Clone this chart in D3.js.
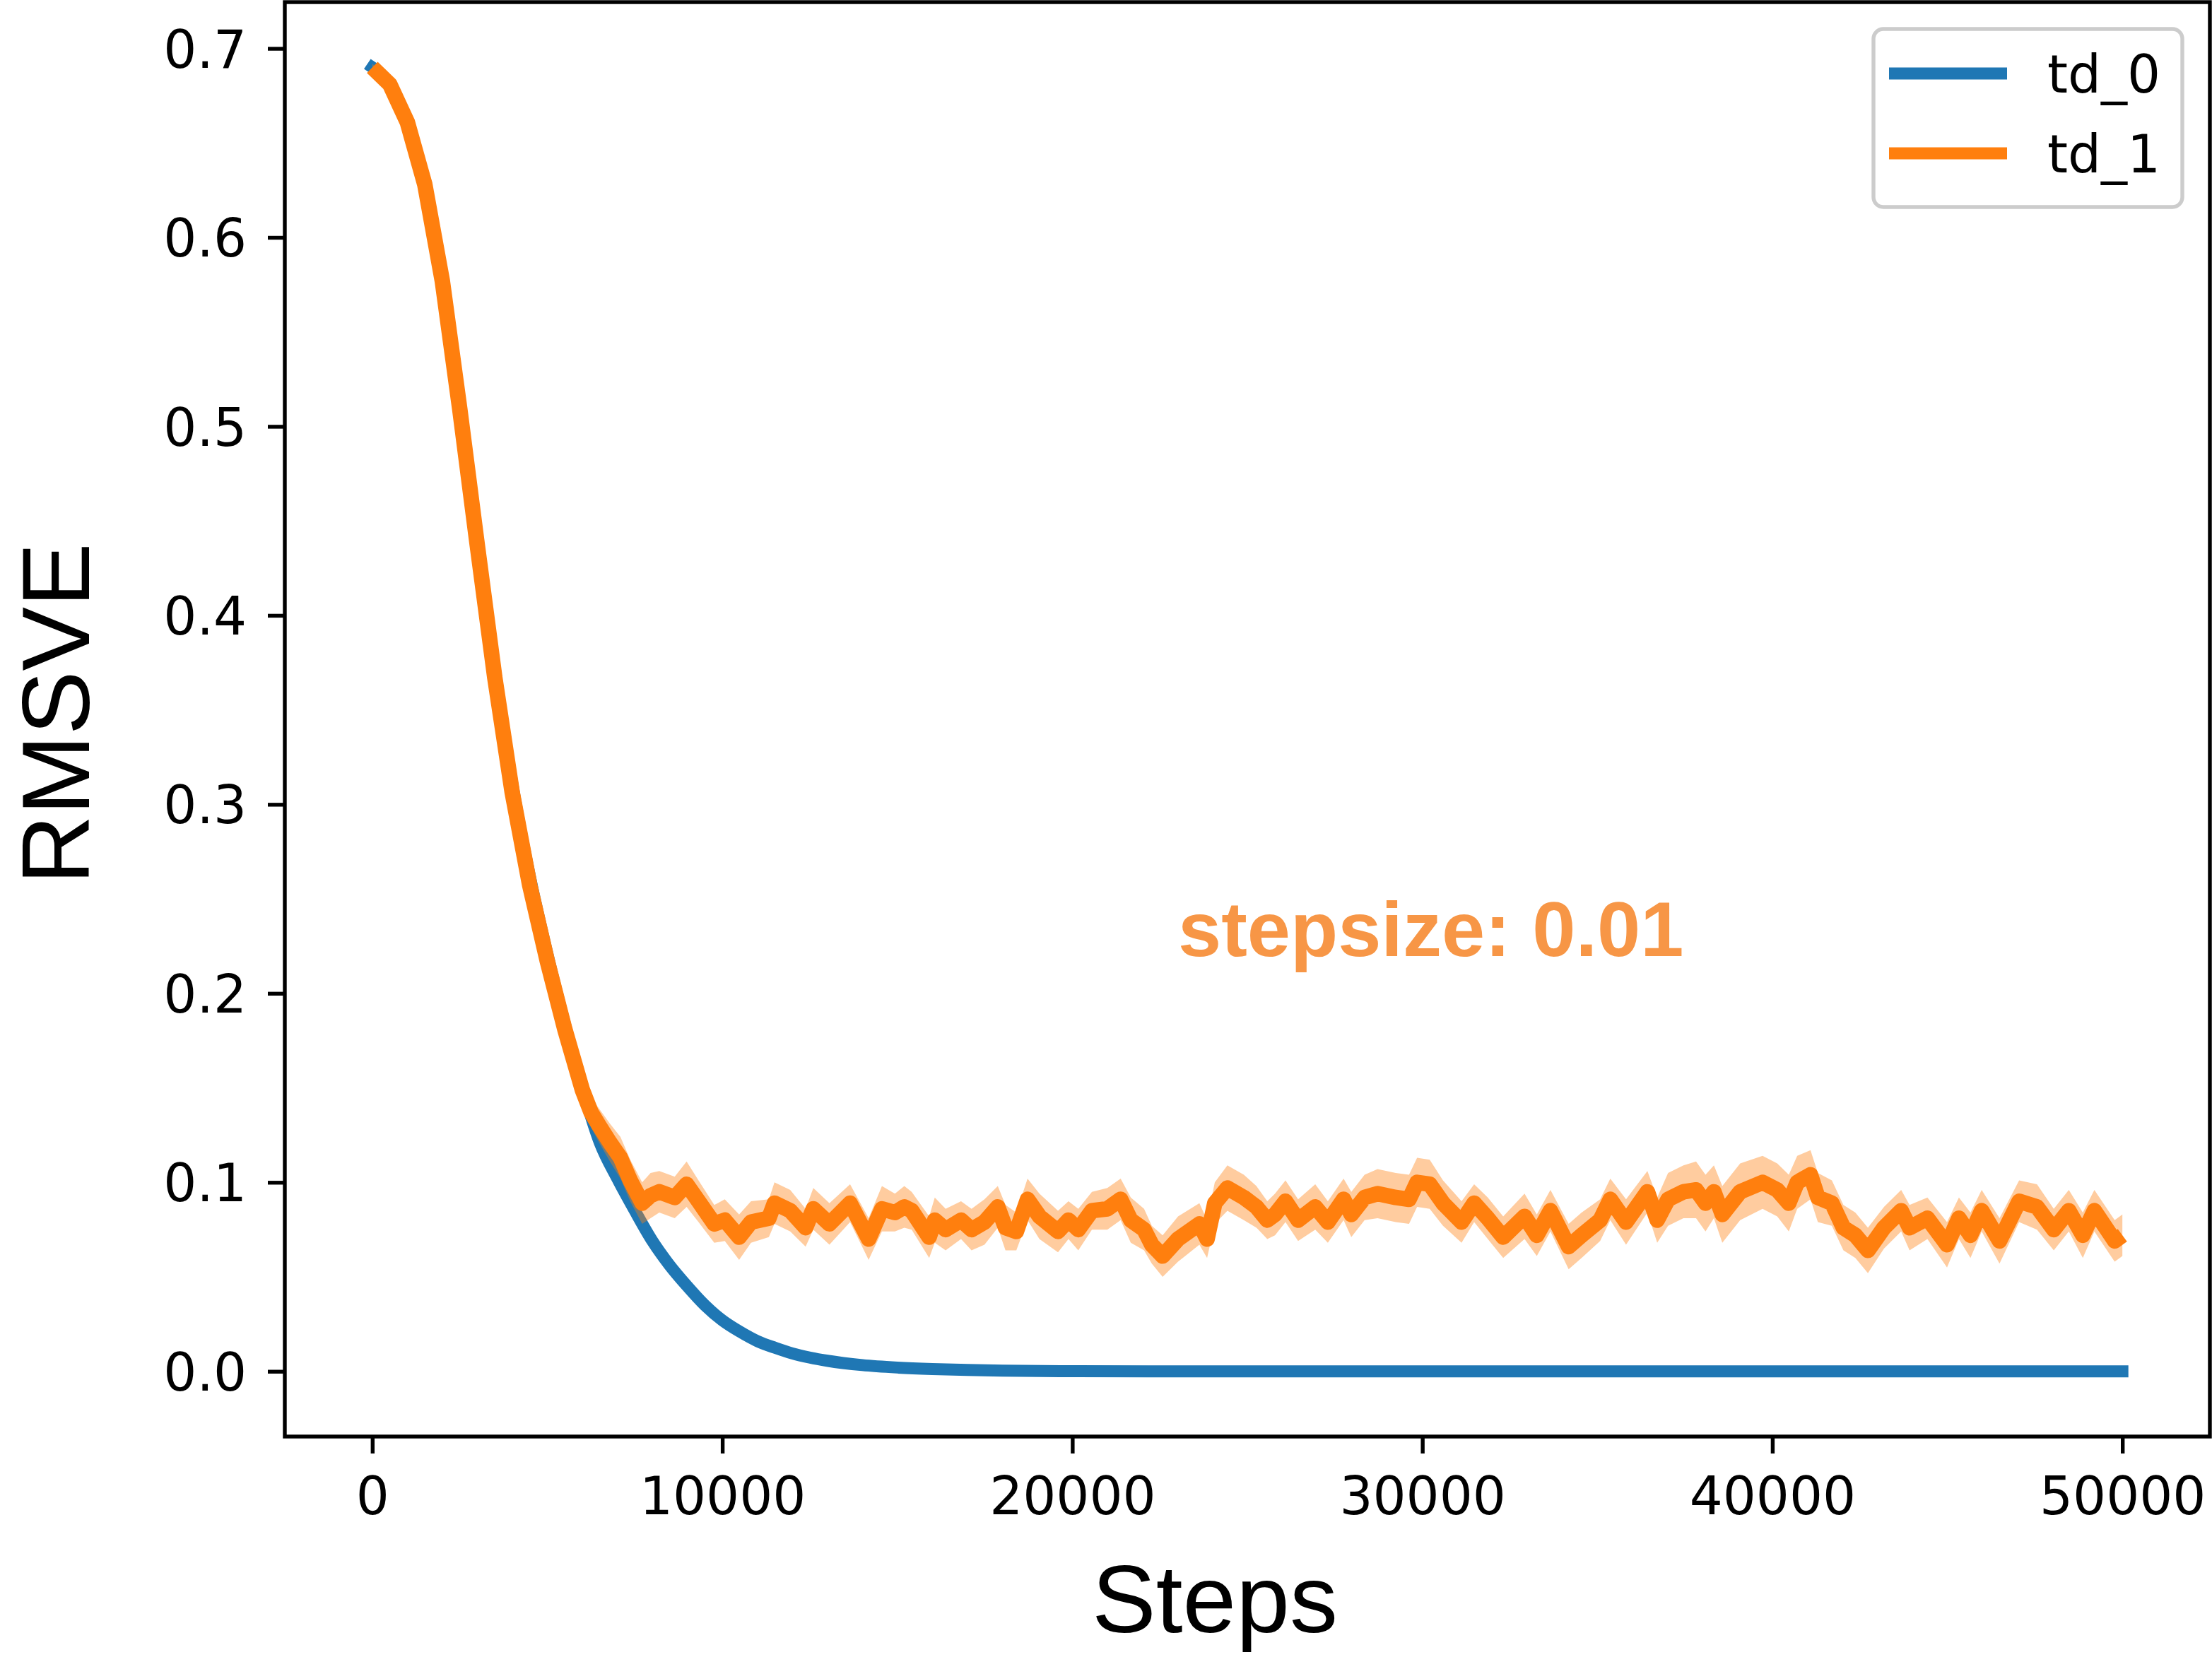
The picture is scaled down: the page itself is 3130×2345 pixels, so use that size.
<!DOCTYPE html>
<html>
<head>
<meta charset="utf-8">
<script src="https://cdn.jsdelivr.net/npm/d3@7"></script>
<style>
  html, body { margin: 0; padding: 0; background: #fff; }
  svg { display: block; }
</style>
</head>
<body>
<script>
// ---------------- data ----------------
const xTicks = [0, 10000, 20000, 30000, 40000, 50000];
const yTicks = [0.0, 0.1, 0.2, 0.3, 0.4, 0.5, 0.6, 0.7];
const seriesNames = ["td_0", "td_1"];

const td0Steps = [0,500,1000,1500,2000,2500,3000,3500,4000,4500,5000,5500,6000,6500,7000,7500,8000,8500,9000,9500,10000,10500,11000,11500,12000,12500,13000,14000,15000,16000,17000,18000,20000,25000,30000,35000,40000,45000,50000];
const td0Values = [0.690,0.681,0.661,0.628,0.579,0.512,0.440,0.372,0.311,0.262,0.221,0.184,0.150,0.121,0.102,0.085,0.069,0.056,0.045,0.035,0.027,0.021,0.016,0.0125,0.0095,0.0073,0.0056,0.0033,0.002,0.0012,0.0007,0.0004,0.0001,0,0,0,0,0,0];

const td1Steps = [0,500,1000,1500,2000,2500,3000,3500,4000,4500,5000,5500,6000,6250,6480,6790,7090,7370,7710,7950,8200,8640,8980,9320,9770,10070,10480,10820,11330,11490,11940,12380,12600,13060,13650,14180,14560,14930,15200,15410,15910,16070,16380,16820,17120,17490,17870,18090,18400,18720,19060,19590,19890,20170,20560,21000,21380,21670,22050,22270,22580,23020,23630,23850,24070,24430,24900,25260,25570,25790,26090,26450,26940,27300,27750,27970,28350,28720,29240,29620,29850,30210,30590,31120,31480,31870,32310,32920,33270,33660,34180,34550,35080,35370,35820,36430,36710,37020,37460,37820,38090,38330,38570,39080,39720,40140,40470,40710,41090,41300,41700,42030,42370,42730,43190,43680,43920,44430,44990,45330,45660,45980,46490,47050,47560,48040,48470,48870,49200,49780,50000];
const td1Values = [0.690,0.681,0.661,0.628,0.577,0.509,0.437,0.367,0.306,0.257,
  0.217,0.181,0.149,0.137,0.130,0.121,0.113,0.101,0.089,0.093,
  0.095,0.092,0.099,0.090,0.078,0.080,0.071,0.079,0.081,0.089,
  0.085,0.076,0.086,0.078,0.089,0.070,0.086,0.084,0.087,0.085,
  0.071,0.080,0.075,0.080,0.075,0.079,0.087,0.076,0.074,0.091,
  0.082,0.074,0.080,0.075,0.085,0.086,0.091,0.080,0.075,0.067,
  0.061,0.070,0.078,0.070,0.089,0.097,0.092,0.087,0.080,0.083,
  0.090,0.080,0.087,0.079,0.091,0.083,0.092,0.094,0.092,0.091,
  0.100,0.099,0.089,0.079,0.089,0.081,0.071,0.082,0.072,0.085,
  0.066,0.072,0.080,0.091,0.079,0.095,0.080,0.091,0.095,0.096,
  0.089,0.095,0.083,0.095,0.100,0.096,0.089,0.100,0.104,0.092,
  0.089,0.076,0.072,0.064,0.076,0.085,0.076,0.081,0.067,0.081,
  0.072,0.085,0.069,0.090,0.087,0.075,0.085,0.072,0.085,0.069,
  0.072];
const td1Spread = [0.002,0.002,0.002,0.003,0.003,0.003,0.004,0.004,0.004,0.005,0.005,0.006,0.007,
  0.008,0.009,0.010,0.011,0.011,0.011,0.012,0.011,
  0.011,0.012,0.011,0.010,0.011,0.012,0.011,0.010,0.011,0.011,
  0.010,0.011,0.011,0.010,0.011,0.012,0.010,0.011,0.010,0.011,
  0.012,0.011,0.010,0.011,0.012,0.011,0.012,0.010,0.011,0.012,
  0.011,0.010,0.011,0.010,0.011,0.011,0.012,0.011,0.010,0.011,
  0.012,0.011,0.010,0.011,0.012,0.012,0.011,0.010,0.011,0.011,
  0.011,0.012,0.011,0.011,0.012,0.012,0.013,0.013,0.013,0.013,
  0.013,0.012,0.011,0.010,0.011,0.011,0.012,0.011,0.011,0.012,
  0.012,0.011,0.011,0.012,0.011,0.012,
  0.014,0.014,0.015,0.015,0.014,0.015,0.015,0.014,0.014,0.015,0.014,0.013,0.013,0.012,
  0.012,0.012,0.012,0.011,0.011,0.012,0.011,0.012,0.011,0.012,
  0.011,0.012,0.011,0.012,0.011,0.011,0.012,0.011,0.011,0.011];

const annotationText = "stepsize: 0.01";
const xLabel = "Steps";
const yLabel = "RMSVE";

// ---------------- layout ----------------
const W = 3130, H = 2345;
const pLeft = 403, pRight = 3127, pTop = 3, pBottom = 2033;
const blue = "#1f77b4", orange = "#ff7f0e";

const x = d3.scaleLinear().domain([-2500, 52500]).range([pLeft, pRight]);
const y = d3.scaleLinear().domain([-0.0345, 0.7245]).range([pBottom, pTop]);

const svg = d3.select("body").append("svg").attr("width", W).attr("height", H);

svg.append("defs").append("clipPath").attr("id", "plotclip")
  .append("rect").attr("x", pLeft).attr("y", pTop).attr("width", pRight - pLeft).attr("height", pBottom - pTop);

const plot = svg.append("g").attr("clip-path", "url(#plotclip)");

const td0 = td0Steps.map((s, i) => ({s, v: td0Values[i]}));
const td1 = td1Steps.map((s, i) => ({s, v: td1Values[i], e: td1Spread[i]}));

plot.append("path").datum(td0)
  .attr("fill", "none").attr("stroke", blue).attr("stroke-width", 17)
  .attr("stroke-linecap", "square").attr("stroke-linejoin", "round")
  .attr("d", d3.line().x(d => x(d.s)).y(d => y(d.v)).curve(d3.curveMonotoneX));

plot.append("path").datum(td1)
  .attr("fill", orange).attr("fill-opacity", 0.4).attr("stroke", "none")
  .attr("d", d3.area().x(d => x(d.s)).y0(d => y(d.v - d.e)).y1(d => y(d.v + d.e)));

plot.append("path").datum(td1)
  .attr("fill", "none").attr("stroke", orange).attr("stroke-width", 22)
  .attr("stroke-linecap", "butt").attr("stroke-linejoin", "round")
  .attr("d", d3.line().x(d => x(d.s)).y(d => y(d.v)));

// ---------------- axes ----------------
const tickFont = "'DejaVu Sans', sans-serif";
const xAxis = svg.append("g").attr("transform", `translate(0,${pBottom})`)
  .call(d3.axisBottom(x).tickValues(xTicks).tickFormat(d3.format("d")).tickSize(24).tickPadding(30));
const yAxis = svg.append("g").attr("transform", `translate(${pLeft},0)`)
  .call(d3.axisLeft(y).tickValues(yTicks).tickFormat(d3.format(".1f")).tickSize(24).tickPadding(30));

[xAxis, yAxis].forEach(g => {
  g.select(".domain").remove();
  g.selectAll(".tick line").attr("stroke", "#000").attr("stroke-width", 5.4);
  g.selectAll(".tick text").attr("font-family", tickFont).attr("font-size", 74).attr("fill", "#000");
});
xAxis.selectAll(".tick text").attr("dy", "0.75em");
yAxis.selectAll(".tick text").attr("dy", "0.36em");

// frame
svg.append("rect").attr("x", pLeft).attr("y", pTop).attr("width", pRight - pLeft).attr("height", pBottom - pTop)
  .attr("fill", "none").attr("stroke", "#000").attr("stroke-width", 5.4);

// ---------------- labels ----------------
svg.append("text").attr("x", 1719).attr("y", 2310).attr("text-anchor", "middle")
  .attr("font-family", "'Liberation Sans', Arial, sans-serif").attr("font-size", 136).attr("fill", "#000")
  .text(xLabel);
svg.append("text").attr("transform", "translate(126,1010) rotate(-90)").attr("text-anchor", "middle")
  .attr("font-family", "'Liberation Sans', Arial, sans-serif").attr("font-size", 136).attr("fill", "#000")
  .text(yLabel);

svg.append("text").attr("x", 1667).attr("y", 1353)
  .attr("font-family", "'Liberation Sans', Arial, sans-serif").attr("font-weight", "bold")
  .attr("font-size", 110).attr("fill", "#F79646")
  .text(annotationText);

// ---------------- legend ----------------
const lg = svg.append("g");
lg.append("rect").attr("x", 2651).attr("y", 41).attr("width", 437).attr("height", 252).attr("rx", 14)
  .attr("fill", "#fff").attr("fill-opacity", 0.8).attr("stroke", "#cccccc").attr("stroke-width", 5.4);
const legColors = [blue, orange];
const legY = [104, 217];
seriesNames.forEach((name, i) => {
  lg.append("line").attr("x1", 2673).attr("x2", 2840).attr("y1", legY[i]).attr("y2", legY[i])
    .attr("stroke", legColors[i]).attr("stroke-width", 17);
  lg.append("text").attr("x", 2897).attr("y", legY[i] + 27)
    .attr("font-family", tickFont).attr("font-size", 74).attr("fill", "#000").text(name);
});
</script>
</body>
</html>
